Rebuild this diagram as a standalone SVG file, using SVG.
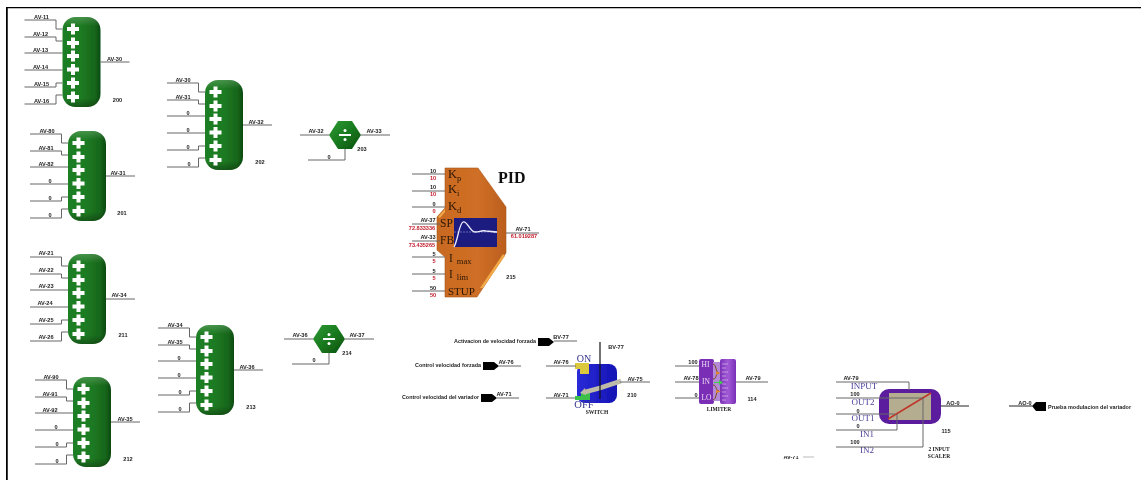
<svg xmlns="http://www.w3.org/2000/svg" width="1141" height="480" viewBox="0 0 1141 480">
<style>
text{font-family:"Liberation Sans",Arial,sans-serif;font-weight:700;font-size:5.6px;fill:#1c1c1c;text-anchor:middle}
.w{fill:none;stroke:#666;stroke-width:1}
.d{fill:none;stroke:#222;stroke-width:1}
.r{fill:#c2202e}
.s{font-family:"Liberation Serif","Times New Roman",serif;font-weight:400}
.pid{font-size:12.5px;fill:#2a1606;text-anchor:start}
.sm{font-size:11.5px}
.sub{font-size:8.5px;fill:#2a1606;text-anchor:start}
.pu{font-size:9px;fill:#4a3f9a}
.sb{font-family:"Liberation Serif","Times New Roman",serif;font-size:5.5px}
.st{text-anchor:start}
.e{text-anchor:end}
.p{fill:#fff}
.tag{fill:#000}
</style>
<defs>
<filter id="soft" x="0" y="0" width="100%" height="100%"><feGaussianBlur stdDeviation="0.35"/></filter>
<linearGradient id="gh" x1="0" x2="1" y1="0" y2="0"><stop offset="0" stop-color="#1f7f25"/><stop offset=".5" stop-color="#1e7a22"/><stop offset=".85" stop-color="#17661b"/><stop offset="1" stop-color="#0b4a10"/></linearGradient>
<linearGradient id="gv" x1="0" x2="0" y1="0" y2="1"><stop offset="0" stop-color="#fff" stop-opacity=".18"/><stop offset=".1" stop-color="#fff" stop-opacity="0"/><stop offset=".9" stop-color="#000" stop-opacity="0"/><stop offset="1" stop-color="#000" stop-opacity=".3"/></linearGradient>
<linearGradient id="gh2" x1="0" x2="1" y1="0" y2="1"><stop offset="0" stop-color="#2f9a35"/><stop offset=".5" stop-color="#187a1e"/><stop offset="1" stop-color="#0b4f10"/></linearGradient>
<linearGradient id="go" x1="0" x2="1" y1="0" y2="0"><stop offset="0" stop-color="#c96a20"/><stop offset=".6" stop-color="#cf6f26"/><stop offset="1" stop-color="#bb5f1e"/></linearGradient>
<linearGradient id="gp" x1="0" x2="1" y1="0" y2="0"><stop offset="0" stop-color="#7a30b8"/><stop offset=".5" stop-color="#a25ad6"/><stop offset="1" stop-color="#7a30b8"/></linearGradient>
<linearGradient id="gb" x1="0" x2="1" y1="0" y2="0"><stop offset="0" stop-color="#2a2ad8"/><stop offset="1" stop-color="#1414b4"/></linearGradient>
<path id="plus" class="p" d="M-2 -5.500H2V-2H6V2H2V5.500H-2V2H-6V-2H-2Z"/>
<g id="adder">
<rect width="38" height="90" rx="13" fill="url(#gh)"/>
<rect width="38" height="90" rx="13" fill="url(#gv)"/>
<use href="#plus" x="10.500" y="12"/>
<use href="#plus" x="10.500" y="26"/>
<use href="#plus" x="10.500" y="39"/>
<use href="#plus" x="10.500" y="52.500"/>
<use href="#plus" x="10.500" y="66"/>
<use href="#plus" x="10.500" y="80"/>
</g>
<g id="aw">
<path class="w" d="M-38 3H-6.500V12H0"/>
<path class="w" d="M-38 20H-6.500V24H0"/>
<path class="w" d="M-38 36H0"/>
<path class="w" d="M-38 53H0"/>
<path class="w" d="M-38 70H-6.500V66H0"/>
<path class="w" d="M-38 87H-6.500V78H0"/>
<path class="w" d="M38 45H67"/>
</g>
<g id="divide">
<path d="M-16 0L-7 -14H7L16 0L7 14H-7Z" fill="url(#gh2)"/>
<rect x="-6" y="-1" width="12" height="2" fill="#fff"/>
<circle cy="-4.500" r="1.500" fill="#fff"/>
<circle cy="4.500" r="1.500" fill="#fff"/>
</g>
<clipPath id="cut"><rect x="780" y="456" width="40" height="6"/></clipPath>
</defs>

<g filter="url(#soft)">
<path id="frame" d="M6.500 480V7H1141" fill="none" stroke="#000" stroke-width="2.500"/>

<g id="n200" transform="translate(62.500,17)"><use href="#adder"/>
<text x="-21" y="2">AV-11</text><text x="-22" y="19">AV-12</text><text x="-22" y="35">AV-13</text><text x="-22" y="52">AV-14</text><text x="-21" y="69">AV-15</text><text x="-21" y="86">AV-16</text><text x="52" y="44">AV-30</text><text x="55" y="85">200</text></g>
<g id="n201" transform="translate(68,131)"><use href="#adder"/>
<text x="-21" y="2">AV-80</text><text x="-22" y="19">AV-81</text><text x="-22" y="35">AV-82</text><text x="-18" y="52">0</text><text x="-18" y="69">0</text><text x="-18" y="86">0</text><text x="50" y="44">AV-31</text><text x="54" y="84">201</text></g>
<g id="n202" transform="translate(205,80)"><use href="#adder"/>
<text x="-22" y="2">AV-30</text><text x="-22" y="19">AV-31</text><text x="-17" y="35">0</text><text x="-17" y="52">0</text><text x="-17" y="69">0</text><text x="-16" y="86">0</text><text x="51" y="44">AV-32</text><text x="55" y="84">202</text></g>
<g id="n211" transform="translate(68,254)"><use href="#adder"/>
<text x="-22" y="1">AV-21</text><text x="-22" y="18">AV-22</text><text x="-22" y="34">AV-23</text><text x="-23" y="51">AV-24</text><text x="-22" y="68">AV-25</text><text x="-22" y="85">AV-26</text><text x="51" y="43">AV-34</text><text x="55" y="83">211</text></g>
<g id="n212" transform="translate(73,377)"><use href="#adder"/>
<text x="-22" y="2">AV-90</text><text x="-23" y="19">AV-91</text><text x="-23" y="35">AV-92</text><text x="-17" y="52">0</text><text x="-16" y="69">0</text><text x="-16" y="86">0</text><text x="52" y="44">AV-35</text><text x="55" y="84">212</text></g>
<g id="n213" transform="translate(196,325)"><use href="#adder"/>
<text x="-21" y="2">AV-34</text><text x="-21" y="19">AV-35</text><text x="-17" y="35">0</text><text x="-17" y="52">0</text><text x="-16" y="69">0</text><text x="-16" y="86">0</text><text x="51" y="44">AV-36</text><text x="55" y="84">213</text></g>

<g id="n203"><use href="#divide" x="345" y="135"/><text x="316" y="133">AV-32</text><text x="374" y="133">AV-33</text><text x="329" y="159">0</text><text x="362" y="151">203</text></g>
<g id="n214"><use href="#divide" x="329" y="339"/><text x="300" y="337">AV-36</text><text x="357" y="337">AV-37</text><text x="314" y="362">0</text><text x="347" y="355">214</text></g>

<g id="n215">
<path d="M445 168H478L506 207V253L477 297H445V257L437 250V217L445 208Z" fill="url(#go)"/>
<path d="M445 168H478L506 207V253L477 297H445V257L437 250V217L445 208Z" fill="none" stroke="#a9551a" stroke-width=".6"/>
<path d="M503 254L480 288L483 288L505 256Z" fill="#f0a848"/>
<path d="M438 217L445 209V212L440 218Z" fill="#f0a848"/>
<rect x="454" y="218" width="43" height="29" fill="#1c1c80"/>
<path d="M454 232H497" stroke="#9aa0c8" stroke-width=".6" stroke-dasharray="2 1" fill="none"/>
<path d="M454 247C458 240 459 224 463 222C467 220 470 232 475 232C480 232 481 230 486 231C490 231 493 232 497 232" stroke="#eef" stroke-width="1.300" fill="none"/>
<text class="s pid" x="448" y="178">K<tspan class="sub" dy="3">p</tspan></text>
<text class="s pid" x="448" y="193">K<tspan class="sub" dy="3">i</tspan></text>
<text class="s pid" x="448" y="210">K<tspan class="sub" dy="3">d</tspan></text>
<text class="s pid sm" x="440" y="227">SP</text>
<text class="s pid sm" x="440" y="244">FB</text>
<text class="s pid sm" x="449" y="262">I<tspan class="sub" dx="4" dy="2">max</tspan></text>
<text class="s pid sm" x="449" y="278">I<tspan class="sub" dx="4" dy="2">lim</tspan></text>
<text class="s pid" x="448" y="295" style="font-size:11px">STUP</text>
<text x="498" y="183" style="font-family:'Liberation Serif',serif;font-size:16px;fill:#111;text-anchor:start">PID</text>
<text x="433" y="173">10</text><text class="r" x="433" y="180">10</text>
<text x="433" y="189">10</text><text class="r" x="433" y="196">10</text>
<text x="434" y="206">0</text><text class="r" x="434" y="213">0</text>
<text x="428" y="222">AV-37</text><text class="r" x="422" y="230">72.833336</text>
<text x="428" y="239">AV-33</text><text class="r" x="422" y="247">73.435265</text>
<text x="434" y="256">5</text><text class="r" x="434" y="263">5</text>
<text x="434" y="273">5</text><text class="r" x="434" y="280">5</text>
<text x="433" y="290">50</text><text class="r" x="433" y="297">50</text>
<text x="523" y="231">AV-71</text><text class="r" x="524" y="238">61.019287</text>
<text x="511" y="279">215</text>
</g>

<g id="tag-bv77"><path class="tag" d="M538 338H549L554 342L549 346H538Z"/><text class="e" x="536" y="343" textLength="82" lengthAdjust="spacingAndGlyphs">Activacion de velocidad forzada</text><text x="561" y="339">BV-77</text></g>
<g id="tag-av76"><path class="tag" d="M483 362H494L499 366L494 370H483Z"/><text class="e" x="481" y="367" textLength="66" lengthAdjust="spacingAndGlyphs">Control velocidad forzada</text><text x="506" y="364">AV-76</text></g>
<g id="tag-av71"><path class="tag" d="M481 394H492L497 398L492 402H481Z"/><text class="e" x="479" y="399" textLength="77" lengthAdjust="spacingAndGlyphs">Control velocidad del variador</text><text x="504" y="396">AV-71</text></g>

<g id="n210">
<rect x="577" y="364" width="40" height="39" rx="8" fill="url(#gb)"/>
<path d="M575 363H589V374H580V369H575Z" fill="#dcc83c"/>
<path d="M575 400H590V392H581V396H575Z" fill="#3ec048"/>
<path d="M621 381L600 388L585 392" fill="none" stroke="#bdbaa8" stroke-width="4.500"/>
<path d="M585 388L580 393L586 395Z" fill="#bdbaa8"/>
<text x="561" y="364">AV-76</text><text x="561" y="397">AV-71</text><text x="635" y="381">AV-75</text><text x="632" y="397">210</text><text x="616" y="349">BV-77</text>
<text class="s" x="584" y="362" style="font-size:10px;fill:#35358f">ON</text>
<text class="s" x="584" y="408" style="font-size:10.500px;fill:#35358f">OFF</text>
<text class="sb" x="597" y="414">SWITCH</text>
</g>

<g id="n114">
<rect x="699" y="359" width="15" height="45" rx="2" fill="#7a2fb5"/>
<rect x="713" y="362" width="8" height="39" fill="#b48ad8"/>
<rect x="720" y="359" width="16" height="45" rx="2" fill="url(#gp)"/>
<path d="M722 364h6M722 368h4M722 372h6M722 376h4M722 380h6M722 384h4M722 388h6M722 392h4M722 396h6M722 400h4" stroke="#e4cff2" stroke-width=".6" fill="none"/>
<path d="M713 364c4 1 2 8 6 9 -4 1 -2 6 -6 6M713 400c4 -1 2 -8 6 -9 -4 -1 -2 -6 -6 -6" stroke="#7c4a16" stroke-width="1" fill="none"/>
<path d="M716 371.500l5 1.500-5 1.500zM716 390l5 1.500-5 1.500z" fill="#e8862a"/>
<path d="M714 382h5v-2l4 2.500-4 2.500v-2h-5z" fill="#3ed048"/>
<text class="s st" x="701.500" y="367" style="font-size:7.500px;fill:#ecd9f6">HI</text>
<text class="s st" x="702" y="384" style="font-size:7.500px;fill:#ecd9f6">IN</text>
<text class="s st" x="701.500" y="400" style="font-size:7.500px;fill:#ecd9f6">LO</text>
<text x="693" y="364">100</text><text x="691" y="380">AV-78</text><text x="696" y="397">0</text><text x="753" y="380">AV-79</text><text x="752" y="401">114</text>
<text class="sb" x="719" y="411">LIMITER</text>
</g>

<g id="n115">
<rect x="879" y="389" width="62" height="35" rx="10" fill="#5c1f9e"/>
<rect x="889" y="393" width="42" height="27" fill="#b5ad90"/>
<path d="M888 419L931 393" stroke="#c0362c" stroke-width="1.500" fill="none"/>
<text x="851" y="380">AV-79</text><text class="s pu" x="864" y="389">INPUT</text>
<text x="855" y="396">100</text><text class="s pu" x="863" y="405">OUT2</text>
<text x="858" y="413">0</text><text class="s pu" x="863" y="421">OUT1</text>
<text x="858" y="428">0</text><text class="s pu" x="867" y="437">IN1</text>
<text x="855" y="444">100</text><text class="s pu" x="867" y="453">IN2</text>
<text x="953" y="405">AO-0</text><text x="946" y="433">115</text>
<text class="sb" x="939" y="451">2 INPUT</text><text class="sb" x="939" y="458">SCALER</text>
</g>

<g id="fragment"><text clip-path="url(#cut)" x="791" y="459">AV-71</text></g>
<g id="tag-ao0"><path class="tag" d="M1032 406L1036 402H1046V411H1036Z"/><text x="1025" y="404.500">AO-0</text><text class="st" x="1048" y="409" textLength="83" lengthAdjust="spacingAndGlyphs">Prueba modulacion del variador</text></g>

<g id="connectors">
<use href="#aw" x="62.500" y="17"/><use href="#aw" x="68" y="131"/><use href="#aw" x="205" y="80"/><use href="#aw" x="68" y="254"/><use href="#aw" x="73" y="377"/><use href="#aw" x="196" y="325"/>
<path class="w" d="M300 135H329M361 135H390M345 149V160H308"/>
<path class="w" d="M284 339H313M345 339H374M329 353V364H292"/>
<path class="w" d="M412 174H445M412 191H445M412 207H445M412 224H440M412 241H440M412 257H445M412 274H445M412 291H445M506 233H539"/>
<path class="w" d="M554 341H577M499 366H521M497 398H519M546 366H576M546 398H575M620 382H650"/>
<path d="M600 342V399" stroke="#111" fill="none" stroke-width="1.200"/>
<path class="w" d="M675 366H699M675 382H699M675 398H699M736 382H768"/>
<path class="w" d="M836 382H909V390M836 398H923M836 414H895M836 430H897V414M836 447H923V398"/>
<path class="d" d="M941 406H969M1009 406H1032"/>
<path d="M803 457H814" stroke="#bbb" fill="none"/>
</g>
</g>
</svg>
